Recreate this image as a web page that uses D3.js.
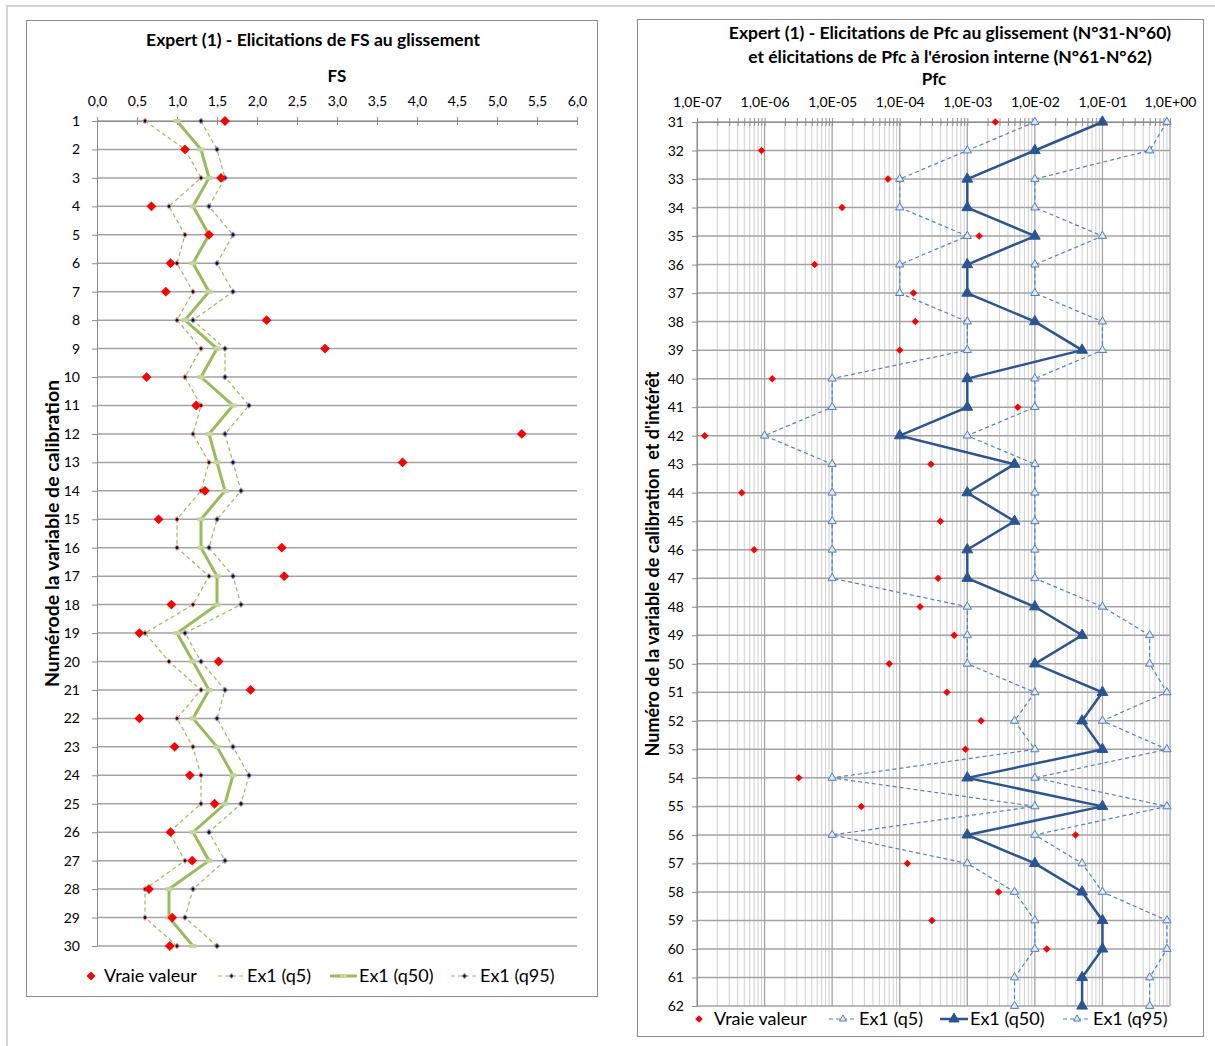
<!DOCTYPE html>
<html>
<head>
<meta charset="utf-8">
<script src="https://cdn.jsdelivr.net/npm/d3@7"></script>
<style>
body { margin: 0; background: #fff; }
text { font-family: Lato, "Open Sans", sans-serif; fill: #000; }
</style>
</head>
<body>
<div id="chart"></div>
<script>
// ---- left chart: FS au glissement (variables 1..30)
const fsCats = [1,2,3,4,5,6,7,8,9,10,11,12,13,14,15,16,17,18,19,20,21,22,23,24,25,26,27,28,29,30];
const fsTrue = [1.6,1.1,1.55,0.68,1.4,0.92,0.86,2.12,2.85,0.62,1.24,5.31,3.82,1.35,0.77,2.31,2.34,0.93,0.53,1.52,1.92,0.53,0.97,1.16,1.47,0.92,1.19,0.65,0.94,0.91];
const fsQ5   = [0.6,1.1,1.3,0.9,1.1,1.0,1.2,1.0,1.3,1.1,1.3,1.2,1.4,1.3,1.0,1.0,1.4,1.2,0.6,0.9,1.3,1.0,1.2,1.3,1.3,0.9,1.1,0.6,0.6,1.0];
const fsQ50  = [1.0,1.3,1.4,1.2,1.4,1.2,1.4,1.1,1.5,1.3,1.7,1.4,1.5,1.6,1.3,1.3,1.5,1.5,1.0,1.2,1.4,1.2,1.5,1.7,1.6,1.2,1.4,0.9,0.9,1.2];
const fsQ95  = [1.3,1.5,1.6,1.4,1.7,1.5,1.7,1.2,1.6,1.6,1.9,1.6,1.7,1.8,1.5,1.4,1.7,1.8,1.1,1.3,1.6,1.5,1.7,1.9,1.8,1.4,1.6,1.2,1.1,1.5];
const fsTicks = [0,0.5,1,1.5,2,2.5,3,3.5,4,4.5,5,5.5,6];

// ---- right chart: Pfc (variables 31..62)
const pfcCats = [31,32,33,34,35,36,37,38,39,40,41,42,43,44,45,46,47,48,49,50,51,52,53,54,55,56,57,58,59,60,61,62];
const pfcTrue = [2.6e-3,9e-7,6.7e-5,1.4e-5,1.5e-3,5.5e-6,1.6e-4,1.7e-4,1e-4,1.3e-6,5.6e-3,1.3e-7,2.9e-4,4.6e-7,4e-4,7e-7,3.7e-4,2e-4,6.4e-4,7e-5,5e-4,1.6e-3,9.4e-4,3.2e-6,2.7e-5,4e-2,1.3e-4,2.9e-3,3e-4,1.5e-2,null,null];
const pfcQ5   = [1e-2,1e-3,1e-4,1e-4,1e-3,1e-4,1e-4,1e-3,1e-3,1e-5,1e-5,1e-6,1e-5,1e-5,1e-5,1e-5,1e-5,1e-3,1e-3,1e-3,1e-2,5e-3,1e-2,1e-5,1e-2,1e-5,1e-3,5e-3,1e-2,1e-2,5e-3,5e-3];
const pfcQ50  = [0.1,1e-2,1e-3,1e-3,1e-2,1e-3,1e-3,1e-2,0.05,1e-3,1e-3,1e-4,5e-3,1e-3,5e-3,1e-3,1e-3,1e-2,0.05,1e-2,0.1,0.05,0.1,1e-3,0.1,1e-3,1e-2,0.05,0.1,0.1,0.05,0.05];
const pfcQ95  = [0.9,0.5,1e-2,1e-2,0.1,1e-2,1e-2,0.1,0.1,1e-2,1e-2,1e-3,1e-2,1e-2,1e-2,1e-2,1e-2,0.1,0.5,0.5,0.9,0.1,0.9,1e-2,0.9,1e-2,0.05,0.1,0.9,0.9,0.5,0.5];
const pfcTicks = [1e-7,1e-6,1e-5,1e-4,1e-3,1e-2,1e-1,1];

const svg = d3.select("#chart").append("svg")
    .attr("width", 1215)
    .attr("height", 1046);

// light outer frame of the sheet
svg.append("path")
    .attr("d", "M7,1046V6H1215")
    .attr("fill", "none")
    .attr("stroke", "#d4d4d4")
    .attr("stroke-width", 2);

// chart boxes
svg.append("rect").attr("x", 26.5).attr("y", 20.5).attr("width", 571).attr("height", 976)
    .attr("fill", "#fff").attr("stroke", "#8c8c8c");
svg.append("rect").attr("x", 637.5).attr("y", 19.5).attr("width", 566).attr("height", 1017)
    .attr("fill", "#fff").attr("stroke", "#8c8c8c");

// diamond = rotated square, like excel
const diamond = (g, size, fill, stroke) => g
    .attr("d", d3.symbol(d3.symbolSquare, size)())
    .attr("fill", fill)
    .attr("stroke", stroke || "none");

const fmtComma = d => d3.format(".1f")(d).replace(".", ",");
const fmtSci = d => {
    const e = Math.round(Math.log10(d));
    return "1,0E" + (e < 0 ? "-" : "+") + String(Math.abs(e)).padStart(2, "0");
};

// =========================== LEFT CHART ===========================
const x1 = d3.scaleLinear().domain([0, 6]).range([97, 577]);
const y1 = d3.scalePoint().domain(fsCats).range([121, 946]);

// horizontal grid
svg.append("g").selectAll("line")
    .data(fsCats)
    .enter()
    .append("line")
    .attr("x1", x1(0)).attr("x2", x1(6))
    .attr("y1", d => y1(d)).attr("y2", d => y1(d))
    .attr("stroke", "#a3a3a3")
    .attr("stroke-width", 1.5);

// axes
const gx1 = svg.append("g")
    .attr("transform", `translate(0,${y1(1)})`)
    .call(d3.axisTop(x1).tickValues(fsTicks).tickSize(4).tickSizeOuter(0).tickPadding(11).tickFormat(fmtComma));
svg.append("g")
    .attr("transform", `translate(0,${y1(1)})`)
    .call(d3.axisBottom(x1).tickValues(fsTicks).tickSize(4).tickSizeOuter(0).tickFormat(""));
const gy1 = svg.append("g")
    .attr("transform", `translate(${x1(0)},0)`)
    .call(d3.axisLeft(y1).tickSize(5).tickSizeOuter(0).tickPadding(12));

svg.selectAll(".domain, .tick line").attr("stroke", "#8c8c8c");
gx1.selectAll("text").style("font-size", "14px");
gy1.selectAll("text").style("font-size", "14px");

// series
const fsPts = arr => fsCats.map((c, i) => ({ c, v: arr[i] }));
const line1 = d3.line().x(d => x1(d.v)).y(d => y1(d.c));

svg.append("path").datum(fsPts(fsQ5)).attr("d", line1)
    .attr("fill", "none").attr("stroke", "#9bbb59").attr("stroke-width", 1.2).attr("stroke-dasharray", "4,3");
svg.append("path").datum(fsPts(fsQ95)).attr("d", line1)
    .attr("fill", "none").attr("stroke", "#9bbb59").attr("stroke-width", 1.2).attr("stroke-dasharray", "4,3");
svg.append("path").datum(fsPts(fsQ50)).attr("d", line1)
    .attr("fill", "none").attr("stroke", "#9bbb59").attr("stroke-width", 3);

svg.append("g").selectAll("rect")
    .data(fsPts(fsQ50))
    .enter().append("rect")
    .attr("x", d => x1(d.v) - 3.5).attr("y", d => y1(d.c) - 2)
    .attr("width", 7).attr("height", 4)
    .attr("fill", "#c3d69b");

svg.append("g").selectAll("path")
    .data(fsPts(fsQ5))
    .enter().append("path")
    .attr("transform", d => `translate(${x1(d.v)},${y1(d.c)}) rotate(45)`)
    .call(diamond, 14, "#111", "#e8a3a3");
svg.append("g").selectAll("path")
    .data(fsPts(fsQ95))
    .enter().append("path")
    .attr("transform", d => `translate(${x1(d.v)},${y1(d.c)}) rotate(45)`)
    .call(diamond, 14, "#111", "#9d95c9");
svg.append("g").selectAll("path")
    .data(fsPts(fsTrue))
    .enter().append("path")
    .attr("transform", d => `translate(${x1(d.v)},${y1(d.c)}) rotate(45)`)
    .call(diamond, 48, "#ff0000");

// titles
svg.append("text").attr("x", 313).attr("y", 46).attr("text-anchor", "middle")
    .style("font-size", "17.5px").style("font-weight", "bold")
    .text("Expert (1) - Elicitations de FS au glissement");
svg.append("text").attr("x", 337).attr("y", 82).attr("text-anchor", "middle")
    .style("font-size", "17px").style("font-weight", "bold")
    .text("FS");
svg.append("text")
    .attr("transform", `translate(59,${(y1(1) + y1(30)) / 2}) rotate(-90)`)
    .attr("text-anchor", "middle")
    .style("font-size", "19.5px").style("font-weight", "bold")
    .text("Numérode la variable de calibration");

// legend
const leg1 = svg.append("g").attr("transform", "translate(0,976)");
leg1.append("path").attr("transform", "translate(91,0) rotate(45)").call(diamond, 40, "#ff0000");
leg1.append("text").attr("x", 104).attr("y", 6).style("font-size", "18px").text("Vraie valeur");
[
    { x: 218, label: "Ex1 (q5)", dash: "4,3", w: 1.2, mk: "#e8a3a3" },
    { x: 330, label: "Ex1 (q50)", dash: null, w: 3, mk: null },
    { x: 451, label: "Ex1 (q95)", dash: "4,3", w: 1.2, mk: "#9d95c9" }
].forEach(d => {
    leg1.append("line").attr("x1", d.x).attr("x2", d.x + 27).attr("y1", 0).attr("y2", 0)
        .attr("stroke", "#9bbb59").attr("stroke-width", d.w).attr("stroke-dasharray", d.dash);
    if (d.mk) {
        leg1.append("path").attr("transform", `translate(${d.x + 13.5},0) rotate(45)`).call(diamond, 12, "#111", d.mk);
    } else {
        leg1.append("rect").attr("x", d.x + 10).attr("y", -2).attr("width", 7).attr("height", 4).attr("fill", "#c3d69b");
    }
    leg1.append("text").attr("x", d.x + 29).attr("y", 6).style("font-size", "18px").text(d.label);
});

// =========================== RIGHT CHART ===========================
const x2 = d3.scaleLog().domain([1e-7, 1]).range([697, 1170]);
const y2 = d3.scalePoint().domain(pfcCats).range([122, 1006]);

// minor + major positions on the log axis
const logGrid = [];
for (let k = -7; k < 0; k++) {
    for (let m = 1; m < 10; m++) logGrid.push(m * Math.pow(10, k));
}
logGrid.push(1);
const isMajor = d => Math.abs(Math.log10(d) - Math.round(Math.log10(d))) < 1e-9;

svg.append("g").selectAll("line")
    .data(logGrid)
    .enter().append("line")
    .attr("x1", d => x2(d)).attr("x2", d => x2(d))
    .attr("y1", y2(31)).attr("y2", y2(62))
    .attr("stroke", d => isMajor(d) ? "#a3a3a3" : "#cfcfcf")
    .attr("stroke-width", d => isMajor(d) ? 1.3 : 1);

svg.append("g").selectAll("line")
    .data(pfcCats)
    .enter().append("line")
    .attr("x1", x2(1e-7)).attr("x2", x2(1))
    .attr("y1", d => y2(d)).attr("y2", d => y2(d))
    .attr("stroke", "#a3a3a3")
    .attr("stroke-width", 1.5);

const gx2 = svg.append("g")
    .attr("transform", `translate(0,${y2(31)})`)
    .call(d3.axisTop(x2).tickValues(logGrid).tickSize(4).tickSizeOuter(0).tickPadding(11)
        .tickFormat(d => isMajor(d) ? fmtSci(d) : ""));
svg.append("g")
    .attr("transform", `translate(0,${y2(31)})`)
    .call(d3.axisBottom(x2).tickValues(logGrid).tickSize(4).tickSizeOuter(0).tickFormat(""));
const gy2 = svg.append("g")
    .attr("transform", `translate(${x2(1e-7)},0)`)
    .call(d3.axisLeft(y2).tickSize(5).tickSizeOuter(0).tickPadding(8));

svg.selectAll(".domain, .tick line").attr("stroke", "#8c8c8c");
gx2.selectAll("text").style("font-size", "14px");
gy2.selectAll("text").style("font-size", "14px");

const pfcPts = arr => pfcCats.map((c, i) => ({ c, v: arr[i] })).filter(d => d.v != null);
const line2 = d3.line().x(d => x2(d.v)).y(d => y2(d.c));

const lightBlue = "#4f81bd";
const darkBlue = "#2a5592";

[pfcQ5, pfcQ95].forEach(arr => {
    svg.append("path").datum(pfcPts(arr)).attr("d", line2)
        .attr("fill", "none").attr("stroke", lightBlue).attr("stroke-width", 1.2).attr("stroke-dasharray", "4,3");
});
svg.append("path").datum(pfcPts(pfcQ50)).attr("d", line2)
    .attr("fill", "none").attr("stroke", darkBlue).attr("stroke-width", 2.5);

[pfcQ5, pfcQ95].forEach(arr => {
    svg.append("g").selectAll("path")
        .data(pfcPts(arr))
        .enter().append("path")
        .attr("transform", d => `translate(${x2(d.v)},${y2(d.c)})`)
        .attr("d", d3.symbol(d3.symbolTriangle, 30)())
        .attr("fill", "#dce6f2")
        .attr("stroke", lightBlue)
        .attr("stroke-width", 1);
});
svg.append("g").selectAll("path")
    .data(pfcPts(pfcQ50))
    .enter().append("path")
    .attr("transform", d => `translate(${x2(d.v)},${y2(d.c)})`)
    .attr("d", d3.symbol(d3.symbolTriangle, 50)())
    .attr("fill", darkBlue)
    .attr("stroke", darkBlue);

svg.append("g").selectAll("path")
    .data(pfcPts(pfcTrue))
    .enter().append("path")
    .attr("transform", d => `translate(${x2(d.v)},${y2(d.c)}) rotate(45)`)
    .call(diamond, 28, "#ff0000");

// titles
svg.append("text").attr("x", 950).attr("y", 39).attr("text-anchor", "middle")
    .style("font-size", "17.5px").style("font-weight", "bold")
    .text("Expert (1) - Elicitations de Pfc au glissement (N°31-N°60)");
svg.append("text").attr("x", 950).attr("y", 63).attr("text-anchor", "middle")
    .style("font-size", "17.5px").style("font-weight", "bold")
    .text("et élicitations de Pfc à l'érosion interne (N°61-N°62)");
svg.append("text").attr("x", 934).attr("y", 85).attr("text-anchor", "middle")
    .style("font-size", "17px").style("font-weight", "bold")
    .text("Pfc");
svg.append("text")
    .attr("transform", `translate(659,${(y2(31) + y2(62)) / 2}) rotate(-90)`)
    .attr("text-anchor", "middle")
    .style("font-size", "18px").style("font-weight", "bold")
    .style("white-space", "pre")
    .text("Numéro de la variable de calibration  et d'intérêt");

// legend
const leg2 = svg.append("g").attr("transform", "translate(0,1019)");
leg2.append("path").attr("transform", "translate(699,0) rotate(45)").call(diamond, 28, "#ff0000");
leg2.append("text").attr("x", 714).attr("y", 6).style("font-size", "18px").text("Vraie valeur");
[
    { x: 829, label: "Ex1 (q5)", q50: false },
    { x: 940, label: "Ex1 (q50)", q50: true },
    { x: 1063, label: "Ex1 (q95)", q50: false }
].forEach(d => {
    leg2.append("line").attr("x1", d.x).attr("x2", d.x + 28).attr("y1", 0).attr("y2", 0)
        .attr("stroke", d.q50 ? darkBlue : lightBlue)
        .attr("stroke-width", d.q50 ? 2.5 : 1.2)
        .attr("stroke-dasharray", d.q50 ? null : "4,3");
    leg2.append("path").attr("transform", `translate(${d.x + 14},0)`)
        .attr("d", d3.symbol(d3.symbolTriangle, d.q50 ? 45 : 22)())
        .attr("fill", d.q50 ? darkBlue : "#dce6f2")
        .attr("stroke", d.q50 ? darkBlue : lightBlue);
    leg2.append("text").attr("x", d.x + 30).attr("y", 6).style("font-size", "18px").text(d.label);
});
</script>
</body>
</html>
